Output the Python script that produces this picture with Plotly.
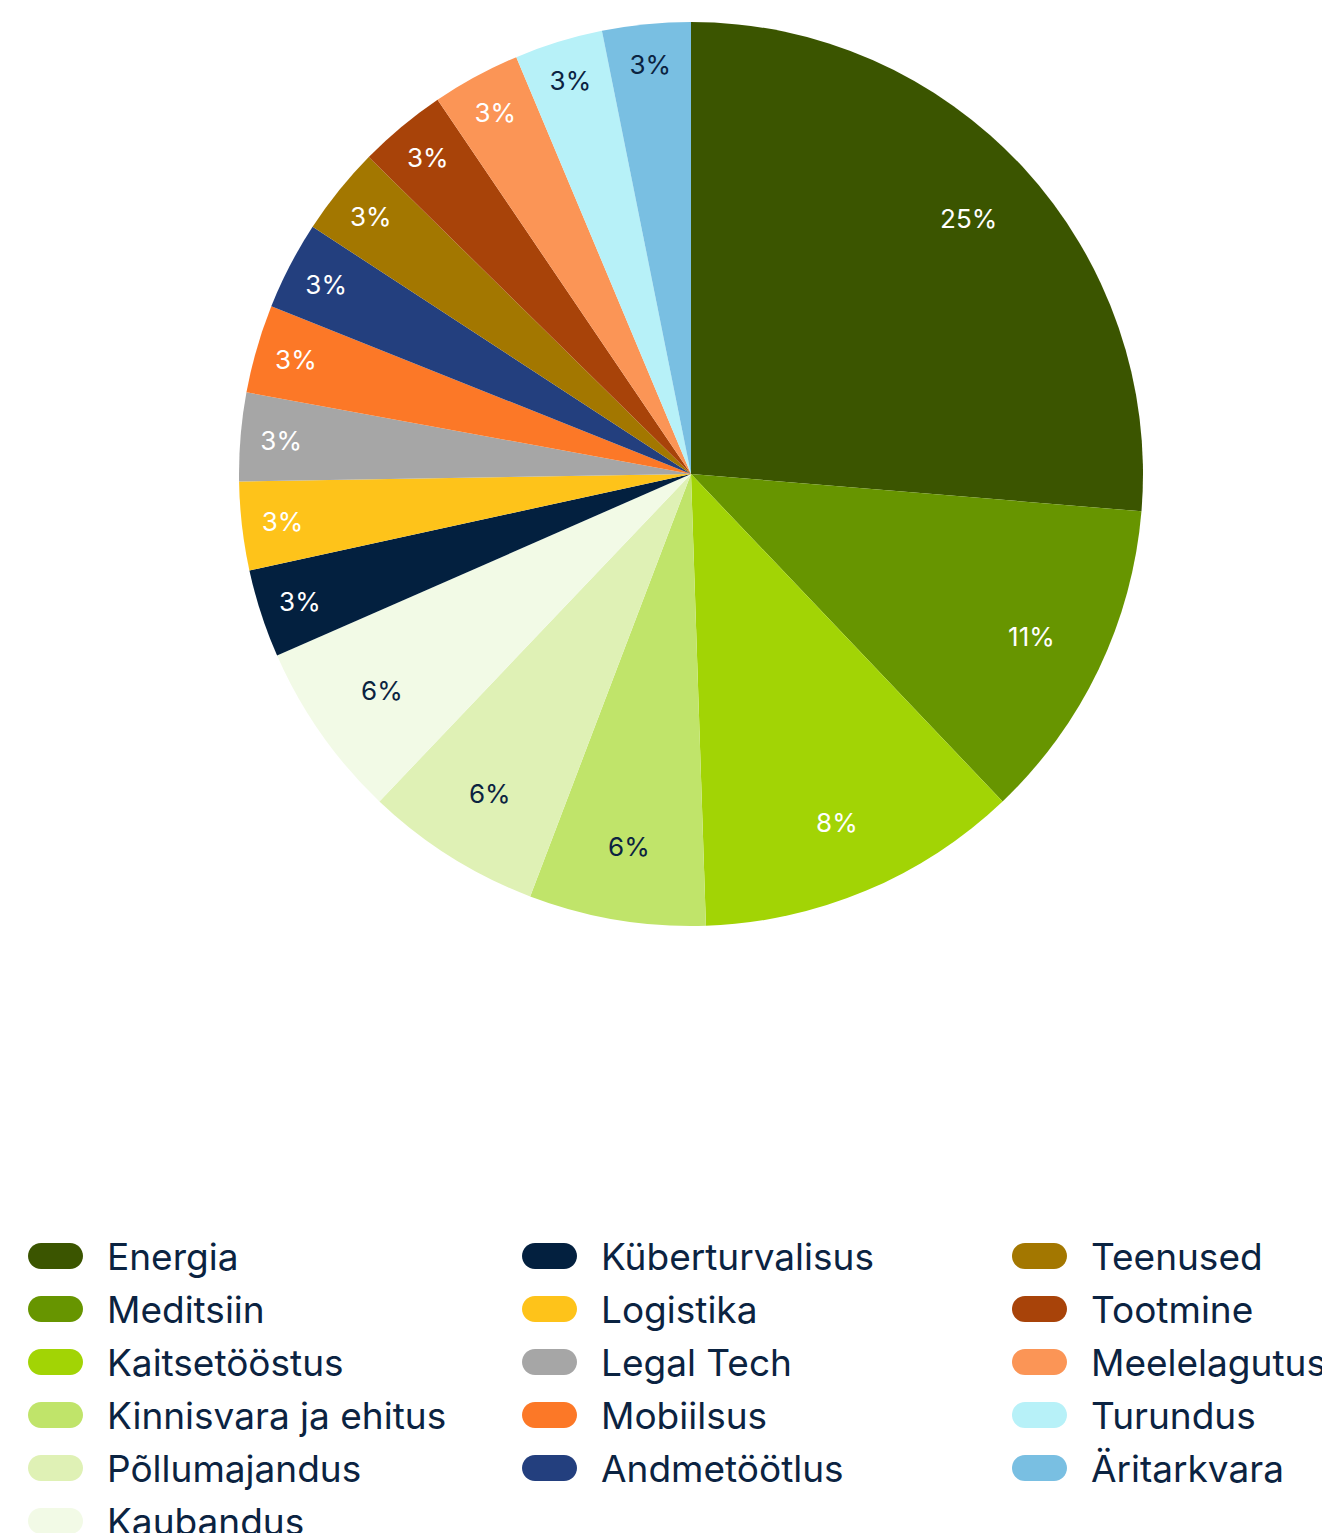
import plotly.graph_objects as go

# ---- data ----
categories = ["Energia", "Meditsiin", "Kaitsetööstus", "Kinnisvara ja ehitus",
              "Põllumajandus", "Kaubandus", "Küberturvalisus", "Logistika",
              "Legal Tech", "Mobiilsus", "Andmetöötlus", "Teenused", "Tootmine",
              "Meelelagutus", "Turundus", "Äritarkvara"]
values = [25, 11, 11, 6, 6, 6, 3, 3, 3, 3, 3, 3, 3, 3, 3, 3]
value_labels = ["25%", "11%", "8%", "6%", "6%", "6%", "3%", "3%",
                "3%", "3%", "3%", "3%", "3%", "3%", "3%", "3%"]

# ---- styles ----
colors = ["#3B5500", "#679500", "#A2D405", "#C0E46A", "#DFF1B5", "#F2FAE6",
          "#03203F", "#FEC31A", "#A6A6A6", "#FC7827", "#233F7E", "#A37700",
          "#A84309", "#FB9556", "#B7F1F8", "#79BFE2"]
DARK = "#0B2341"
WHITE = "#FFFFFF"
text_colors = [WHITE, WHITE, WHITE, DARK, DARK, DARK, WHITE, WHITE,
               WHITE, WHITE, WHITE, WHITE, WHITE, WHITE, DARK, DARK]

W, H = 1322, 1533
cx, cy, R = 691, 474, 452
domain = dict(x=[(cx - R) / W, (cx + R) / W],
              y=[1 - (cy + R) / H, 1 - (cy - R) / H])

fig = go.Figure()
# filled slices
fig.add_trace(go.Pie(
    labels=categories, values=values,
    textinfo="none",
    marker=dict(colors=colors, line=dict(width=0)),
    sort=False, direction="clockwise", rotation=0,
    showlegend=False, domain=domain,
))
# transparent ring carrying the slice labels (keeps them near the rim)
fig.add_trace(go.Pie(
    labels=categories, values=values,
    text=value_labels, textinfo="text",
    textposition="inside", insidetextorientation="horizontal",
    textfont=dict(family="Inter", size=26, color=text_colors),
    marker=dict(colors=["rgba(0,0,0,0)"] * len(values), line=dict(width=0)),
    hole=0.67, hoverinfo="skip",
    sort=False, direction="clockwise", rotation=0,
    showlegend=False, domain=domain,
))

# ---- custom legend (column-major, pill swatches) ----
col_pill_x = [55.5, 549.5, 1039.5]
col_text_x = [105, 599, 1089]
row_y0, row_step = 1256, 53
col_sizes = [6, 5, 5]

pw, ph = 55, 26
r = ph / 2
k = 0.5523 * r
hx = pw / 2 - r
pill = (f"M {-hx},{-r} L {hx},{-r} "
        f"C {hx + k},{-r} {hx + r},{-k} {hx + r},0 "
        f"C {hx + r},{k} {hx + k},{r} {hx},{r} "
        f"L {-hx},{r} "
        f"C {-hx - k},{r} {-hx - r},{k} {-hx - r},0 "
        f"C {-hx - r},{-k} {-hx - k},{-r} {-hx},{-r} Z")

shapes, annotations = [], []
idx = 0
for c, n in enumerate(col_sizes):
    for rr in range(n):
        ypix = row_y0 + rr * row_step
        yp = 1 - ypix / H
        shapes.append(dict(type="path", xref="paper", yref="paper",
                           xsizemode="pixel", ysizemode="pixel",
                           xanchor=col_pill_x[c] / W, yanchor=yp,
                           path=pill, fillcolor=colors[idx],
                           line=dict(width=0)))
        annotations.append(dict(text=categories[idx], xref="paper", yref="paper",
                                x=col_text_x[c] / W, y=yp,
                                xanchor="left", yanchor="middle",
                                showarrow=False,
                                font=dict(family="Inter", size=37, color=DARK)))
        idx += 1

fig.update_layout(
    width=W, height=H,
    margin=dict(l=0, r=0, t=0, b=0),
    paper_bgcolor="white", plot_bgcolor="white",
    shapes=shapes, annotations=annotations,
)

fig.write_html("out.html")
